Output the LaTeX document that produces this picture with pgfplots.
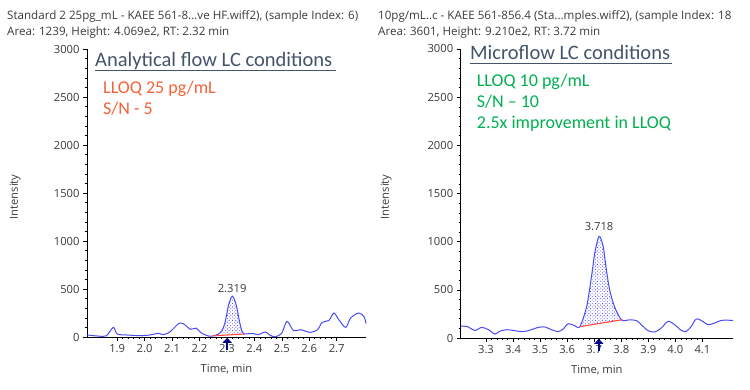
\documentclass[border=0pt]{standalone}
\usepackage{fontspec}
\setmainfont{Open Sans}
\newfontfamily\calfont{Carlito}
\usepackage{pgfplots}
\pgfplotsset{compat=1.18}
\usetikzlibrary{patterns.meta,arrows.meta}
\definecolor{curve}{HTML}{4B4BF5}
\definecolor{titlec}{HTML}{44546A}
\definecolor{redt}{HTML}{F4623A}
\definecolor{greent}{HTML}{00B050}
\definecolor{basered}{HTML}{FF4B3A}
\definecolor{txt}{HTML}{3A3A3A}
\definecolor{arrowc}{HTML}{00008B}
\pgfplotsset{chrom/.style={
  scale only axis, clip=false,
  axis x line=bottom, axis y line=left,
  axis line style={-, black, line width=0.6pt},
  ymin=0, ymax=3000, ytick={0,500,1000,1500,2000,2500,3000},
  minor y tick num=4, minor x tick num=4,
  tick align=outside, major tick length=4pt, minor tick length=2pt,
  tick style={black, line width=0.5pt},
  tick label style={font=\fontsize{11.2}{12}\selectfont, text=txt},
  /pgf/number format/assume math mode=true,
  y tick label style={/pgf/number format/.cd, 1000 sep={}},
  x tick label style={/pgf/number format/.cd, fixed, fixed zerofill, precision=1},
}}
\begin{document}
\begin{tikzpicture}[x=1pt,y=1pt]
\useasboundingbox (0pt,0pt) rectangle (750pt,390pt);
% headers
\node[anchor=base west, inner sep=0, text=txt, font=\fontsize{11.6}{12}\selectfont] at (7pt,370pt) {Standard 2 25pg\_mL - KAEE 561-8...ve HF.wiff2), (sample Index: 6)};
\node[anchor=base west, inner sep=0, text=txt, font=\fontsize{11.6}{12}\selectfont] at (7pt,354pt) {Area: 1239, Height: 4.069e2, RT: 2.32 min};
\node[anchor=base west, inner sep=0, text=txt, font=\fontsize{11.6}{12}\selectfont] at (378pt,370pt) {10pg/mL..c - KAEE 561-856.4 (Sta...mples.wiff2), (sample Index: 18};
\node[anchor=base west, inner sep=0, text=txt, font=\fontsize{11.6}{12}\selectfont] at (378pt,354pt) {Area: 3601, Height: 9.210e2, RT: 3.72 min};
% y labels
\node[rotate=90, text=txt, font=\fontsize{11.2}{12}\selectfont] at (15pt,193pt) {Intensity};
\node[rotate=90, text=txt, font=\fontsize{11.2}{12}\selectfont] at (386pt,193pt) {Intensity};

% LEFT
\begin{axis}[chrom, at={(87pt,53pt)}, anchor=south west, width=279pt, height=288pt,
  xmin=1.79, xmax=2.807, xtick={1.9,2.0,2.1,2.2,2.3,2.4,2.5,2.6,2.7},
  xlabel={Time, min}, xlabel style={font=\fontsize{11.2}{12}\selectfont, text=txt, yshift=-5pt}]
\addplot[smooth, draw=none, pattern={Dots[distance=2.4pt, radius=0.6pt, angle=45]}, pattern color=curve] coordinates {
(2.251,12) (2.269,31) (2.282,66) (2.294,160) (2.306,333) (2.320,425) (2.334,333) (2.346,160) (2.355,56) (2.363,31)} -- cycle;
\addplot[smooth, curve, line width=1pt] coordinates {
(1.791,21) (1.83,10) (1.86,12) (1.886,100) (1.90,31) (1.935,21) (1.983,14) (2.02,21) (2.05,38) (2.069,24) (2.093,55) (2.127,145) (2.148,125) (2.166,80) (2.188,92) (2.205,45) (2.233,10)
(2.251,12) (2.269,31) (2.282,66) (2.294,160) (2.306,333) (2.320,425) (2.334,333) (2.346,160) (2.355,56) (2.363,31) (2.380,35) (2.397,35) (2.415,25) (2.440,52) (2.458,17) (2.476,2) (2.500,40) (2.519,163) (2.543,66) (2.568,76) (2.604,48) (2.630,76) (2.648,153) (2.672,173) (2.690,250) (2.708,180) (2.733,100) (2.751,198) (2.781,250) (2.800,210) (2.807,139)};
\addplot[basered, line width=1.1pt] coordinates {(2.251,12) (2.363,31)};
\addplot[arrowc, line width=2.6pt, -{Triangle[length=5pt,width=9pt]}] coordinates {(2.301,-135) (2.301,-8)};
\node[text=txt, font=\fontsize{11.2}{12}\selectfont] at (axis cs:2.319,507) {2.319};
\end{axis}

% RIGHT
\begin{axis}[chrom, at={(460.7pt,52pt)}, anchor=south west, width=272.3pt, height=289pt,
  xmin=3.2065, xmax=4.213, xtick={3.3,3.4,3.5,3.6,3.7,3.8,3.9,4.0,4.1},
  xlabel={Time, min}, xlabel style={font=\fontsize{11.2}{12}\selectfont, text=txt, yshift=-5pt}]
\addplot[smooth, draw=none, pattern={Dots[distance=2.4pt, radius=0.6pt, angle=45]}, pattern color=curve] coordinates {
(3.647,118) (3.672,326) (3.690,639) (3.702,882) (3.718,1055) (3.733,951) (3.745,708) (3.757,500) (3.775,326) (3.801,188)} -- cycle;
\addplot[smooth, curve, line width=1pt] coordinates {
(3.2065,121) (3.229,121) (3.259,79) (3.284,110) (3.309,86) (3.333,41) (3.35,69) (3.376,86) (3.407,76) (3.432,66) (3.456,76) (3.493,110) (3.518,114) (3.542,86) (3.567,66) (3.585,93) (3.604,148) (3.628,128)
(3.647,118) (3.672,326) (3.690,639) (3.702,882) (3.718,1055) (3.733,951) (3.745,708) (3.757,500) (3.775,326) (3.801,188)
(3.83,188) (3.856,181) (3.874,138) (3.899,76) (3.924,62) (3.948,104) (3.973,173) (3.997,138) (4.022,79) (4.040,69) (4.059,121) (4.077,197) (4.101,173) (4.12,138) (4.145,155) (4.17,183) (4.213,183)};
\addplot[basered, line width=1.1pt] coordinates {(3.647,118) (3.801,188)};
\addplot[arrowc, line width=2.6pt, -{Triangle[length=5pt,width=9pt]}] coordinates {(3.717,-135) (3.717,-8)};
\node[text=txt, font=\fontsize{11.2}{12}\selectfont] at (axis cs:3.718,1153) {3.718};
\end{axis}

% titles and annotations
\node[anchor=base west, inner sep=0, text=titlec, font=\calfont\fontsize{20.5}{24}\selectfont] at (95pt,323.3pt) {Analytical flow LC conditions};
\draw[titlec, line width=1.3pt] (95pt,319.3pt) -- (336pt,319.3pt);
\node[anchor=base west, inner sep=0, text=redt, font=\calfont\fontsize{18}{22}\selectfont] at (103pt,296.7pt) {LLOQ 25 pg/mL};
\node[anchor=base west, inner sep=0, text=redt, font=\calfont\fontsize{18}{22}\selectfont] at (103pt,275pt) {S/N - 5};
\node[anchor=base west, inner sep=0, text=titlec, font=\calfont\fontsize{20.5}{24}\selectfont] at (470pt,330pt) {Microflow LC conditions};
\draw[titlec, line width=1.3pt] (470pt,326.5pt) -- (672pt,326.5pt);
\node[anchor=base west, inner sep=0, text=greent, font=\calfont\fontsize{18}{22}\selectfont] at (476.7pt,303.3pt) {LLOQ 10 pg/mL};
\node[anchor=base west, inner sep=0, text=greent, font=\calfont\fontsize{18}{22}\selectfont] at (476.7pt,282.3pt) {S/N – 10};
\node[anchor=base west, inner sep=0, text=greent, font=\calfont\fontsize{18}{22}\selectfont] at (476.7pt,261.7pt) {2.5x improvement in LLOQ};
\end{tikzpicture}
\end{document}
